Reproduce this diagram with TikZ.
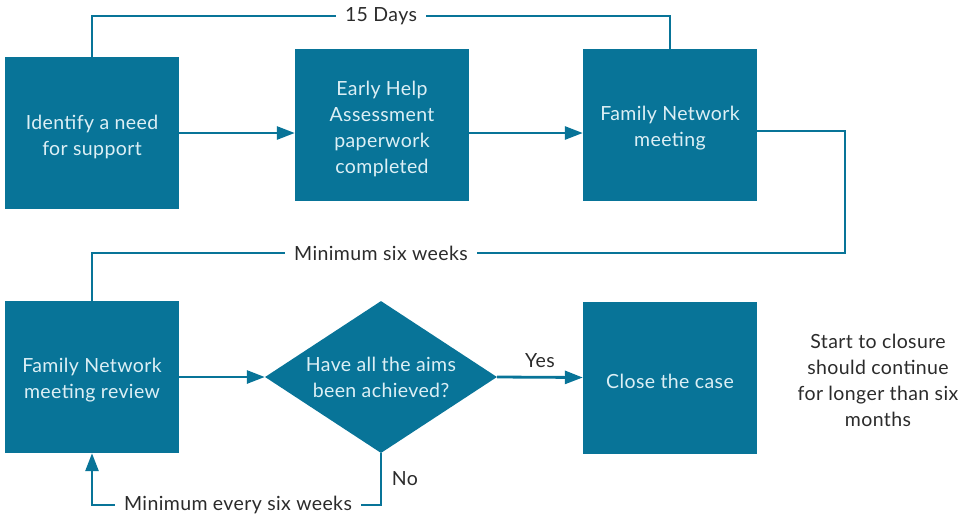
\documentclass[tikz,border=0pt]{standalone}
\usepackage{fontspec}
\setmainfont{Lato}[LetterSpace=2]
\usetikzlibrary{arrows.meta,shapes.geometric,calc}
\definecolor{teal}{HTML}{087498}
\definecolor{boxtext}{HTML}{DCEFF5}
\definecolor{labtext}{HTML}{2B2B2B}
\newcommand\toppad{\rule{0pt}{21.5pt}}
\tikzset{
  stepbox/.style={fill=teal, draw=none, minimum width=174pt, minimum height=152pt, inner sep=0pt,
    text=boxtext, align=center, font=\fontsize{19.5}{26}\selectfont},
  decision/.style={diamond, fill=teal, draw=none, aspect=1.53, minimum width=232pt, minimum height=152pt,
    inner sep=0pt, text=boxtext, align=center, font=\fontsize{19.5}{26}\selectfont},
  conn/.style={draw=teal, line width=2.8pt},
  arr/.style={conn, -{Triangle[length=18pt,width=13pt]}},
  lab/.style={fill=white, text=labtext, inner sep=0pt, inner xsep=9pt, font=\fontsize{19.5}{26}\selectfont},
  plainlab/.style={text=labtext, inner sep=0pt, align=center, font=\fontsize{19.5}{26}\selectfont}
}
\begin{document}
\begin{tikzpicture}[x=1pt,y=-1pt]
\useasboundingbox (0,0) rectangle (972,515);
\node[stepbox] (A) at (92,133) {\toppad Identify a need\\for support};
\node[stepbox] (B) at (382,125) {\toppad Early Help\\Assessment\\paperwork\\completed};
\node[stepbox] (C) at (670,125) {\toppad Family Network\\meeting};
\node[stepbox] (D) at (92,377) {\toppad Family Network\\meeting review};
\node[decision] (Q) at (381,377) {Have all the aims\\been achieved?};
\node[stepbox] (E) at (670,377.5) {\toppad Close the case};
\node[plainlab] (note) at (878,380) {Start to closure\\should continue\\for longer than six\\months};

\draw[arr] (A.east) -- (B.west |- A.east);
\draw[arr] (B.east |- A.east) -- (C.west |- A.east);
\draw[arr] (D.east) -- (Q.west);
\draw[arr] (Q.east) -- node[plainlab, above=8pt] (yes) {Yes} (E.west);

\coordinate (t1) at (381,16);
\draw[conn] (A.north) |- (t1) -| (C.north);
\node[lab] (l1) at (t1) {15 Days};

\coordinate (c1) at ($(C.east)+(0,6)$);
\coordinate (r1) at (845,253);
\draw[conn] (c1) -| (r1) -| (D.north);
\node[lab] (l2) at (381,253) {Minimum six weeks};

\coordinate (b1) at (238,505);
\draw[arr] (Q.south) |- (b1) -| (D.south);
\node[lab] (l3) at (b1) {Minimum every six weeks};
\node[plainlab] (no) at (405,479) {No};
\end{tikzpicture}
\end{document}
